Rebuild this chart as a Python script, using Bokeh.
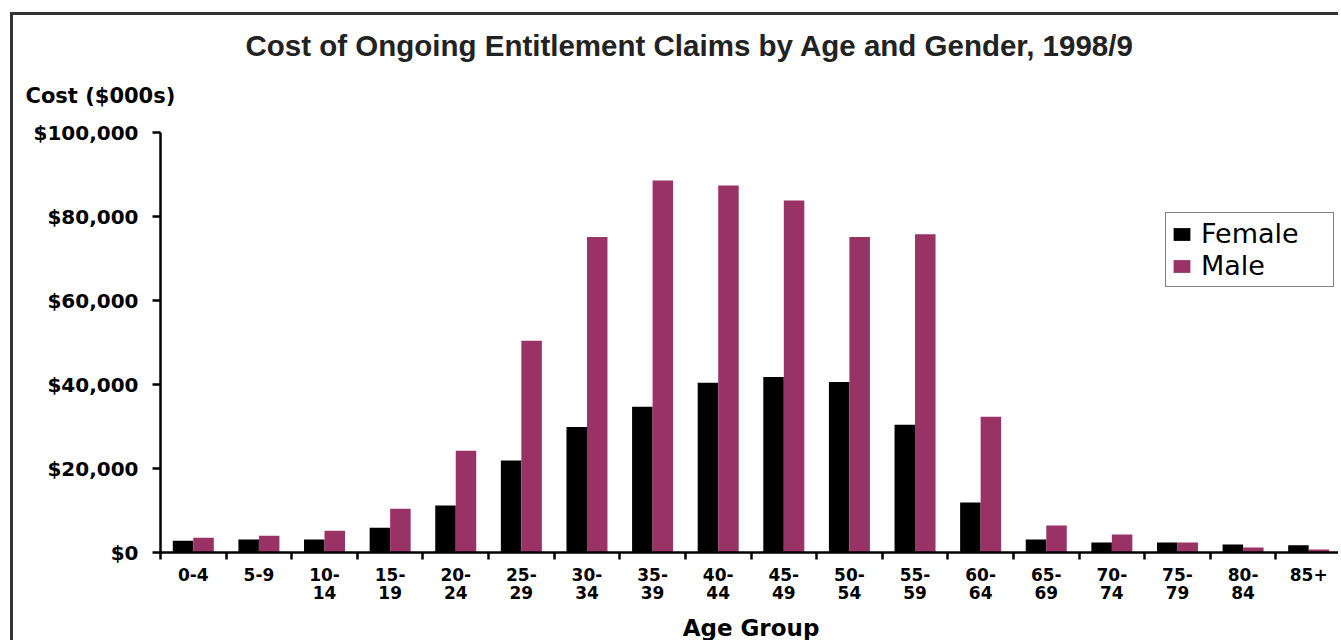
from bokeh.plotting import figure
from bokeh.models import (Range1d, LinearAxis, FixedTicker, NumeralTickFormatter, Title,
                          ColumnDataSource)
from bokeh.embed import file_html
from bokeh.resources import INLINE

# ---- data ----
age_groups = ["0-4", "5-9", "10-14", "15-19", "20-24", "25-29", "30-34", "35-39", "40-44",
              "45-49", "50-54", "55-59", "60-64", "65-69", "70-74", "75-79", "80-84", "85+"]
female = [2800, 3100, 3100, 5900, 11200, 21900, 29900, 34700, 40400,
          41800, 40600, 30400, 11900, 3100, 2400, 2400, 1900, 1700]
male = [3500, 4000, 5200, 10400, 24200, 50400, 75100, 88600, 87400,
        83800, 75100, 75800, 32300, 6400, 4300, 2400, 1200, 700]
y_ticks = [0, 20000, 40000, 60000, 80000, 100000]
title_text = "Cost of Ongoing Entitlement Claims by Age and Gender, 1998/9"
y_title = "Cost ($000s)"
x_title = "Age Group"

n = len(age_groups)
bw = 0.3125
centers = [i + 0.5 for i in range(n)]
src = ColumnDataSource(dict(age=age_groups, female=female, male=male,
                            xf=[c - bw / 2 for c in centers], xm=[c + bw / 2 for c in centers]))

W, H = 1328, 628
p = figure(width=W, height=H, x_range=Range1d(0, n), y_range=Range1d(0, 100000),
           output_backend="svg", toolbar_location=None, x_axis_location=None,
           min_border_left=147, min_border_right=0, min_border_top=117, min_border_bottom=90)
p.title = None
p.outline_line_color = None
p.xgrid.visible = False
p.ygrid.visible = False
p.background_fill_color = "white"
p.border_fill_color = "white"
p.styles = {"margin-left": "10px", "margin-top": "12px",
            "border-left": "3px solid #333333", "border-top": "3px solid #333333"}

p.vbar(x="xf", top="female", width=bw, source=src,
       fill_color="black", line_color=None, legend_label="Female")
p.vbar(x="xm", top="male", width=bw, source=src,
       fill_color="#993366", line_color=None, legend_label="Male")

# y axis
ya = p.yaxis[0]
ya.ticker = FixedTicker(ticks=y_ticks)
ya.formatter = NumeralTickFormatter(format="$0,0")
ya.axis_line_width = 2.5
ya.axis_line_color = "black"
ya.major_tick_line_width = 2.5
ya.major_tick_out = 8
ya.major_tick_in = 0
ya.minor_tick_line_color = None
ya.major_label_standoff = 14
ya.major_label_text_font = "DejaVu Sans"
ya.major_label_text_font_style = "bold"
ya.major_label_text_font_size = "20px"
ya.major_label_text_color = "black"

# x axis: ticks at category boundaries
xb = LinearAxis(ticker=FixedTicker(ticks=list(range(n + 1))))
xb.major_label_overrides = {i: "" for i in range(n + 1)}
xb.major_label_standoff = 0
xb.axis_line_width = 2.5
xb.axis_line_color = "black"
xb.major_tick_line_width = 2.5
xb.major_tick_out = 7
xb.major_tick_in = 0
xb.minor_tick_line_color = None
p.add_layout(xb, "below")

# x axis: category labels at centres
xc = LinearAxis(ticker=FixedTicker(ticks=centers))
xc.major_label_overrides = {c: (a.replace("-", "-\n") if len(a) > 3 else a)
                            for c, a in zip(centers, age_groups)}
xc.axis_line_color = None
xc.major_tick_line_color = None
xc.major_tick_out = 0
xc.major_tick_in = 0
xc.minor_tick_line_color = None
xc.major_label_standoff = 5
xc.major_label_text_font = "DejaVu Sans"
xc.major_label_text_font_style = "bold"
xc.major_label_text_font_size = "17px"
xc.major_label_text_color = "black"
xc.major_label_text_line_height = 0.9
xc.axis_label = x_title
xc.axis_label_standoff = 9
xc.axis_label_text_font = "DejaVu Sans"
xc.axis_label_text_font_style = "bold"
xc.axis_label_text_font_size = "23px"
xc.axis_label_text_color = "black"
p.add_layout(xc, "below")

# y-axis heading (nearest the frame), then the main title above it
p.add_layout(Title(text=y_title, align="left", offset=-135, standoff=45, vertical_align="top",
                   text_font="DejaVu Sans", text_font_style="bold", text_font_size="21px",
                   text_color="black"), "above")
p.add_layout(Title(text=title_text, align="left", offset=85, standoff=0, vertical_align="bottom",
                   text_font="Liberation Sans", text_font_style="bold", text_font_size="29.5px",
                   text_color="#222222"), "above")

lg = p.legend[0]
lg.location = (1005, 265)
lg.border_line_color = "black"
lg.border_line_width = 1
lg.background_fill_color = "white"
lg.label_text_font = "DejaVu Sans"
lg.label_text_font_size = "27px"
lg.label_text_color = "black"
lg.glyph_width = 21
lg.glyph_height = 16
lg.label_standoff = 9
lg.label_width = 127
lg.label_height = 26
lg.spacing = 1
lg.padding = 5
lg.margin = 0

open("out.html", "w").write(file_html(p, INLINE))
